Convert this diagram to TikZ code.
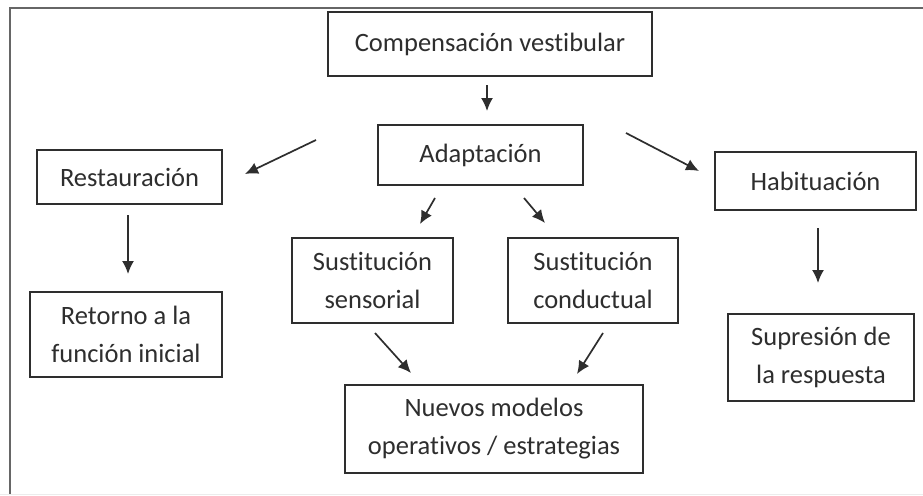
\documentclass[tikz,border=0pt]{standalone}
\usepackage{fontspec}
\setmainfont[Ligatures={NoCommon,NoContextual}]{Carlito}
\usetikzlibrary{arrows.meta}
\definecolor{ink}{HTML}{2E2E2E}
\begin{document}
\begin{tikzpicture}[x=1pt,y=-1pt,
  box/.style={draw=ink,line width=1.8pt,rectangle,inner sep=0pt,align=center,
    text=ink,font=\fontsize{26.5}{38}\selectfont},
  arr/.style={draw=ink,line width=1.7pt,-{Latex[length=13pt,width=12pt]}}]
\useasboundingbox (0,0) rectangle (923,495);
\fill[white] (0,0) rectangle (923,495);
% frame
\draw[draw=gray!80!black,line width=2.2pt] (10,495) -- (10,8) -- (923,8);
\draw[draw=gray!15,line width=1pt] (0,494) -- (923,494);
% boxes
\node[box,minimum width=324pt,minimum height=64pt] (comp) at (490,44) {Compensación vestibular};
\node[box,minimum width=205pt,minimum height=60pt] (adap) at (480.5,155) {Adaptación};
\node[box,minimum width=185pt,minimum height=54pt] (rest) at (129.5,177) {Restauración};
\node[box,minimum width=201pt,minimum height=58pt] (hab) at (815.5,181) {Habituación};
\node[box,minimum width=161pt,minimum height=85pt] (sens) at (372.5,280.5) {Sustitución\\sensorial};
\node[box,minimum width=170pt,minimum height=85pt] (cond) at (593,280.5) {Sustitución\\conductual};
\node[box,minimum width=192pt,minimum height=85pt] (ret) at (126,334.5) {Retorno a la\\función inicial};
\node[box,minimum width=186pt,minimum height=87pt] (sup) at (821,357.5) {Supresión de\\la respuesta};
\node[box,minimum width=298pt,minimum height=88pt] (nue) at (494,429) {Nuevos modelos\\operativos / estrategias};
% arrow end points
\coordinate (c1) at (487,85);  \coordinate (a1) at (487,111);
\coordinate (c2) at (316,140); \coordinate (r2) at (245,174);
\coordinate (c3) at (626,133); \coordinate (h3) at (699,171);
\coordinate (c4) at (128,215); \coordinate (r4) at (128,274);
\coordinate (c5) at (818,228); \coordinate (h5) at (818,283);
\coordinate (c6) at (435,198); \coordinate (s6) at (420,224);
\coordinate (c7) at (524,198); \coordinate (s7) at (545,223);
\coordinate (c8) at (375,333); \coordinate (n8) at (411,373);
\coordinate (c9) at (603,333); \coordinate (n9) at (577,374);
% arrows
\draw[arr] (c1) -- (a1);
\draw[arr] (c2) -- (r2);
\draw[arr] (c3) -- (h3);
\draw[arr] (c4) -- (r4);
\draw[arr] (c5) -- (h5);
\draw[arr] (c6) -- (s6);
\draw[arr] (c7) -- (s7);
\draw[arr] (c8) -- (n8);
\draw[arr] (c9) -- (n9);
\end{tikzpicture}
\end{document}
